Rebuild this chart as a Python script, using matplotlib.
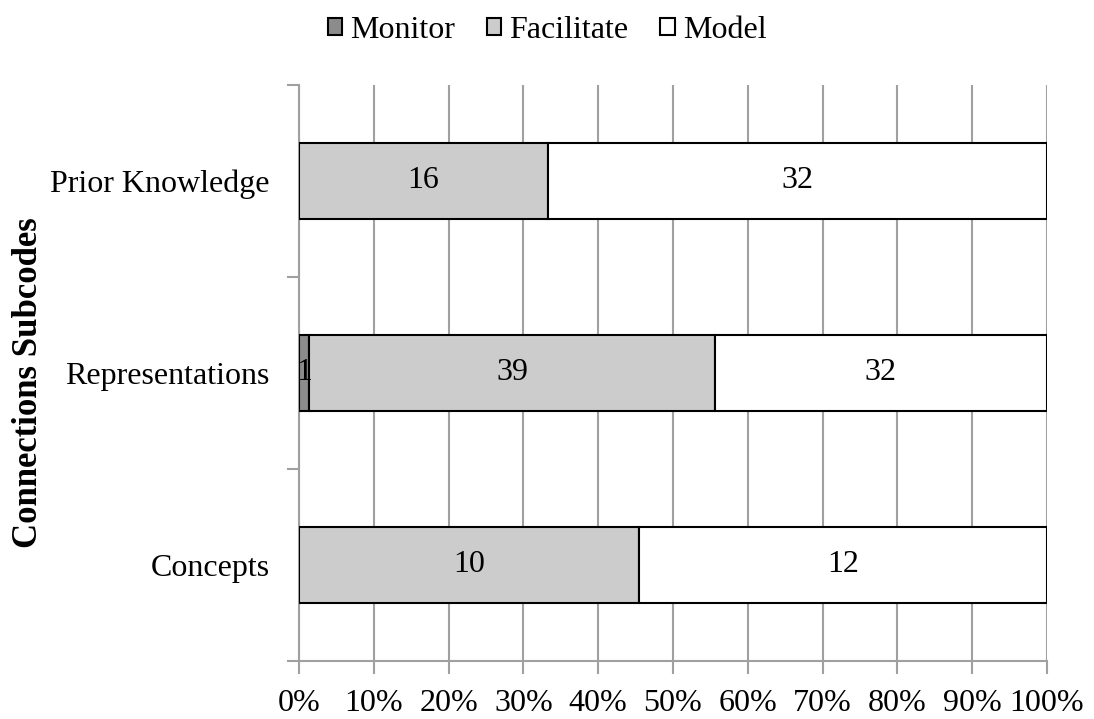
import matplotlib.pyplot as plt
import numpy as np

plt.rcParams['font.family'] = ['Liberation Serif', 'DejaVu Serif']

categories = ['Concepts', 'Representations', 'Prior Knowledge']
monitor = [0, 1, 0]
facilitate = [10, 39, 16]
model = [12, 32, 32]
series = [('Monitor', monitor, '#8c8c8c'),
          ('Facilitate', facilitate, '#cccccc'),
          ('Model', model, '#ffffff')]

totals = np.array(monitor) + np.array(facilitate) + np.array(model)
y = np.arange(len(categories))
fs = 23

fig = plt.figure(figsize=(10.94, 7.19), dpi=100)
ax = fig.add_axes([0.2733, 0.0807, 0.6837, 0.8011])

# stacked shares, each row summing to 100%
left = np.zeros(len(categories))
for name, vals, col in series:
    share = np.array(vals) / totals
    ax.barh(y, share, left=left, height=0.4, color=col,
            edgecolor='black', linewidth=1.5, label=name, zorder=3)
    for yi, v, l, s in zip(y, vals, left, share):
        if v > 0:
            ax.text(l + s / 2, yi, str(v), ha='center', va='center',
                    fontsize=fs, zorder=4)
    left = left + share

ax.set_xlim(0, 1)
ax.set_ylim(-0.5, 2.5)
ax.set_xticks(np.linspace(0, 1, 11))
ax.set_xticklabels([f'{i}%' for i in range(0, 101, 10)], fontsize=fs)
ax.set_yticks([-0.5, 0.5, 1.5, 2.5])
ax.set_yticklabels([])
ax.set_yticks(y, minor=True)
ax.set_yticklabels(categories, minor=True, fontsize=fs)
ax.tick_params(axis='y', which='minor', length=0, pad=21)
ax.tick_params(axis='y', which='major', length=9, color='#a0a0a0', width=1.5)
ax.tick_params(axis='x', length=9, color='#a0a0a0', width=1.5, pad=11)

ax.grid(axis='x', color='#a0a0a0', linewidth=1.5, zorder=0)
for side in ['top', 'right']:
    ax.spines[side].set_visible(False)
for side in ['left', 'bottom']:
    ax.spines[side].set_color('#a0a0a0')
    ax.spines[side].set_linewidth(1.5)

ax.set_ylabel('Connections Subcodes', fontsize=25, fontweight='bold')
ax.yaxis.set_label_coords(-0.34, 0.484)

fig.legend(loc='center', bbox_to_anchor=(0.5, 0.958), ncol=3, frameon=False,
           fontsize=fs, handlelength=0.45, handleheight=0.45, handletextpad=0.25,
           columnspacing=1.0, borderpad=0)

plt.savefig('out.png', dpi=100)
